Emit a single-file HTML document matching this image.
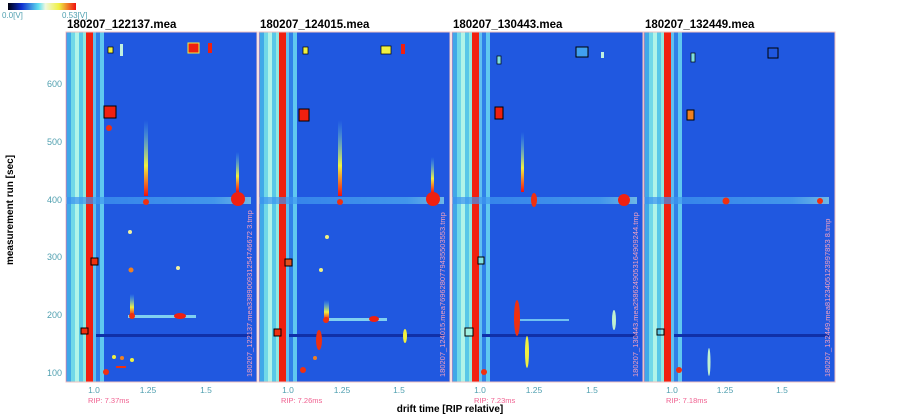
<!DOCTYPE html>
<html><head><meta charset="utf-8"><style>
html,body{margin:0;padding:0;background:#fff;width:900px;height:415px;overflow:hidden}
svg{display:block}
text{font-family:"Liberation Sans",sans-serif}
</style></head><body>
<svg width="900" height="415" viewBox="0 0 900 415" xmlns="http://www.w3.org/2000/svg">
<defs>
<linearGradient id="cb" x1="0" x2="1">
<stop offset="0" stop-color="#000010"/><stop offset="0.2" stop-color="#1030d0"/><stop offset="0.45" stop-color="#60e0f0"/><stop offset="0.55" stop-color="#f0f8e0"/><stop offset="0.75" stop-color="#f0f040"/><stop offset="1" stop-color="#f01010"/>
</linearGradient>
<linearGradient id="vs" x1="0" y1="0" x2="0" y2="1">
<stop offset="0" stop-color="#60e0f0" stop-opacity="0"/><stop offset="0.6" stop-color="#f0f040"/><stop offset="1" stop-color="#f01010"/>
</linearGradient>
<linearGradient id="hb" x1="0" x2="1">
<stop offset="0" stop-color="#3a90f0"/><stop offset="0.8" stop-color="#50b0f0"/><stop offset="1" stop-color="#90e0e8"/>
</linearGradient>
<g id="base">
<rect x="0" y="0" width="191" height="350" fill="#2058e0"/>
<rect x="1" y="0" width="4" height="350" fill="#40a8e8"/>
<rect x="5" y="0" width="4" height="350" fill="#70d8e8"/>
<rect x="9" y="0" width="4" height="350" fill="#b0f4e8"/>
<rect x="13" y="0" width="4" height="350" fill="#58c8e8"/>
<rect x="17" y="0" width="3" height="350" fill="#90e8e0"/>
<rect x="20" y="0" width="7" height="350" fill="#f02010"/>
<rect x="27" y="0" width="3" height="350" fill="#60c0f0"/>
<rect x="30" y="0" width="4" height="350" fill="#3080e8"/>
<rect x="34" y="0" width="4" height="350" fill="#60c8f0"/>
<rect x="0" y="165" width="185" height="7" fill="url(#hb)" opacity="0.7"/>
<rect x="30" y="302" width="155" height="3" fill="#1030a8"/>
<rect x="0" y="0" width="191" height="350" fill="none" stroke="#f0c0c0" stroke-width="1"/>
</g>
</defs>

<rect x="8" y="3" width="68" height="7" fill="url(#cb)"/>
<text x="2" y="18" font-size="8" fill="#50a0b0">0.0[V]</text>
<text x="62" y="18" font-size="8" fill="#50a0b0">0.53[V]</text>

<text transform="translate(13,210) rotate(-90)" font-size="10" font-weight="bold" text-anchor="middle" fill="#000">measurement run [sec]</text>
<g font-size="9" fill="#50a0b0" text-anchor="end">
<text x="62" y="87">600</text><text x="62" y="145">500</text><text x="62" y="203">400</text>
<text x="62" y="260">300</text><text x="62" y="318">200</text><text x="62" y="376">100</text>
</g>
<text x="450" y="412" font-size="10" font-weight="bold" text-anchor="middle" fill="#000">drift time [RIP relative]</text>

<!-- Panel 1 -->
<g transform="translate(66,32)">
<use href="#base"/>
<rect x="78" y="88" width="4" height="76" fill="url(#vs)"/>
<circle cx="80" cy="170" r="3" fill="#f03010"/>
<rect x="170" y="120" width="3" height="40" fill="url(#vs)"/>
<ellipse cx="172" cy="167" rx="7" ry="7" fill="#f02010"/>
<rect x="122" y="11" width="11" height="10" fill="#f02010" stroke="#f0f040"/>
<rect x="142" y="11" width="4" height="10" fill="#f02010"/>
<rect x="38" y="74" width="12" height="12" fill="#f02010" stroke="#000"/>
<circle cx="43" cy="96" r="3" fill="#f03010"/>
<rect x="42" y="15" width="5" height="6" fill="#f0f040" stroke="#000" stroke-width="0.7"/>
<rect x="54" y="12" width="3" height="12" fill="#c0f0e0"/>
<rect x="25" y="226" width="7" height="7" fill="#f03010" stroke="#000"/>
<rect x="15" y="296" width="7" height="6" fill="#f03010" stroke="#000"/>
<rect x="62" y="283" width="68" height="3" fill="#80d0f0"/>
<ellipse cx="114" cy="284" rx="6" ry="3" fill="#f02010"/>
<rect x="64" y="262" width="4" height="22" fill="url(#vs)"/>
<circle cx="66" cy="284" r="3" fill="#f03010"/>
<circle cx="65" cy="238" r="2.5" fill="#f08020"/><circle cx="112" cy="236" r="2" fill="#f0f0a0"/>
<circle cx="48" cy="325" r="2" fill="#f0f040"/><circle cx="66" cy="328" r="2" fill="#f0f040"/>
<circle cx="40" cy="340" r="3" fill="#f03010"/><rect x="50" y="334" width="10" height="2" fill="#f03010"/>
<circle cx="56" cy="326" r="2" fill="#f08020"/><circle cx="64" cy="200" r="2" fill="#f0f0a0"/>
<text transform="translate(186,345) rotate(-90)" font-size="7.5" fill="#f0a0c0">180207_122137.mea338900931254746672 3.tmp</text>
</g>

<!-- Panel 2 -->
<g transform="translate(259,32)">
<use href="#base"/>
<rect x="79" y="88" width="4" height="76" fill="url(#vs)"/>
<circle cx="81" cy="170" r="3" fill="#f03010"/>
<rect x="172" y="125" width="3" height="36" fill="url(#vs)"/>
<ellipse cx="174" cy="167" rx="7" ry="7" fill="#f02010"/>
<rect x="122" y="14" width="10" height="8" fill="#f0f040" stroke="#000" stroke-width="0.7"/>
<rect x="142" y="12" width="4" height="10" fill="#f02010"/>
<rect x="40" y="77" width="10" height="12" fill="#f02010" stroke="#000"/>
<rect x="44" y="15" width="5" height="7" fill="#f0f040" stroke="#000" stroke-width="0.7"/>
<rect x="26" y="227" width="7" height="7" fill="#e05020" stroke="#000"/>
<rect x="15" y="297" width="7" height="7" fill="#f03010" stroke="#000"/>
<rect x="68" y="286" width="60" height="3" fill="#80d0f0"/>
<ellipse cx="115" cy="287" rx="5" ry="3" fill="#f02010"/>
<rect x="65" y="268" width="5" height="20" fill="url(#vs)"/>
<circle cx="67" cy="288" r="3" fill="#f03010"/>
<ellipse cx="60" cy="308" rx="3" ry="10" fill="#f03010"/>
<ellipse cx="146" cy="304" rx="2" ry="7" fill="#f0f040"/>
<circle cx="44" cy="338" r="3" fill="#f03010"/><circle cx="56" cy="326" r="2" fill="#f08020"/>
<circle cx="68" cy="205" r="2" fill="#f0f080"/><circle cx="62" cy="238" r="2" fill="#f0f080"/>
<text transform="translate(186,345) rotate(-90)" font-size="7.5" fill="#f0a0c0">180207_124015.mea7696280779435503553.tmp</text>
</g>

<!-- Panel 3 -->
<g transform="translate(452,32)">
<use href="#base"/>
<ellipse cx="82" cy="168" rx="3" ry="7" fill="#f03010"/>
<ellipse cx="172" cy="168" rx="6" ry="6" fill="#f02010"/>
<rect x="69" y="100" width="3" height="60" fill="url(#vs)"/>
<rect x="124" y="15" width="12" height="10" fill="#40a0f0" stroke="#000"/>
<rect x="149" y="20" width="3" height="6" fill="#c0f0e0"/>
<rect x="43" y="75" width="8" height="12" fill="#f02010" stroke="#000"/>
<rect x="45" y="24" width="4" height="8" fill="#80e0e0" stroke="#000" stroke-width="0.7"/>
<rect x="26" y="225" width="6" height="7" fill="#80e0e0" stroke="#000"/>
<rect x="13" y="296" width="8" height="8" fill="#a0f0e0" stroke="#000"/>
<rect x="62" y="287" width="55" height="2" fill="#70c0f0"/>
<ellipse cx="65" cy="286" rx="3" ry="18" fill="#f03010"/>
<ellipse cx="75" cy="320" rx="2" ry="16" fill="#f0f040"/>
<ellipse cx="162" cy="288" rx="2" ry="10" fill="#c0f0d0"/>
<circle cx="32" cy="340" r="3" fill="#f03010"/>
<text transform="translate(186,345) rotate(-90)" font-size="7.5" fill="#f0a0c0">180207_130443.mea2586249053164909244.tmp</text>
</g>

<!-- Panel 4 -->
<g transform="translate(644,32)">
<use href="#base"/>
<circle cx="82" cy="169" r="3.5" fill="#f03010"/>
<circle cx="176" cy="169" r="3" fill="#f03010"/>
<rect x="124" y="16" width="10" height="10" fill="none" stroke="#000"/>
<rect x="47" y="21" width="4" height="9" fill="#80e0e0" stroke="#000" stroke-width="0.7"/>
<rect x="43" y="78" width="7" height="10" fill="#f08020" stroke="#000"/>
<rect x="13" y="297" width="7" height="6" fill="none" stroke="#000"/>
<circle cx="35" cy="338" r="3" fill="#f03010"/>
<ellipse cx="65" cy="330" rx="1.5" ry="14" fill="#c0f0d0"/>
<text transform="translate(186,345) rotate(-90)" font-size="7.5" fill="#f0a0c0">180207_132449.mea8123405123997853 8.tmp</text>
</g>

<g font-size="11.5" font-weight="bold" fill="#000">
<text x="67" y="28">180207_122137.mea</text>
<text x="260" y="28">180207_124015.mea</text>
<text x="453" y="28">180207_130443.mea</text>
<text x="645" y="28">180207_132449.mea</text>
</g>

<g font-size="8.5" fill="#50a0b0" text-anchor="middle">
<text x="94" y="393">1.0</text><text x="148" y="393">1.25</text><text x="206" y="393">1.5</text>
<text x="288" y="393">1.0</text><text x="342" y="393">1.25</text><text x="399" y="393">1.5</text>
<text x="480" y="393">1.0</text><text x="534" y="393">1.25</text><text x="592" y="393">1.5</text>
<text x="672" y="393">1.0</text><text x="725" y="393">1.25</text><text x="782" y="393">1.5</text>
</g>
<g font-size="7.5" fill="#f06090">
<text x="88" y="403">RIP: 7.37ms</text>
<text x="281" y="403">RIP: 7.26ms</text>
<text x="474" y="403">RIP: 7.23ms</text>
<text x="666" y="403">RIP: 7.18ms</text>
</g>
</svg>
</body></html>
